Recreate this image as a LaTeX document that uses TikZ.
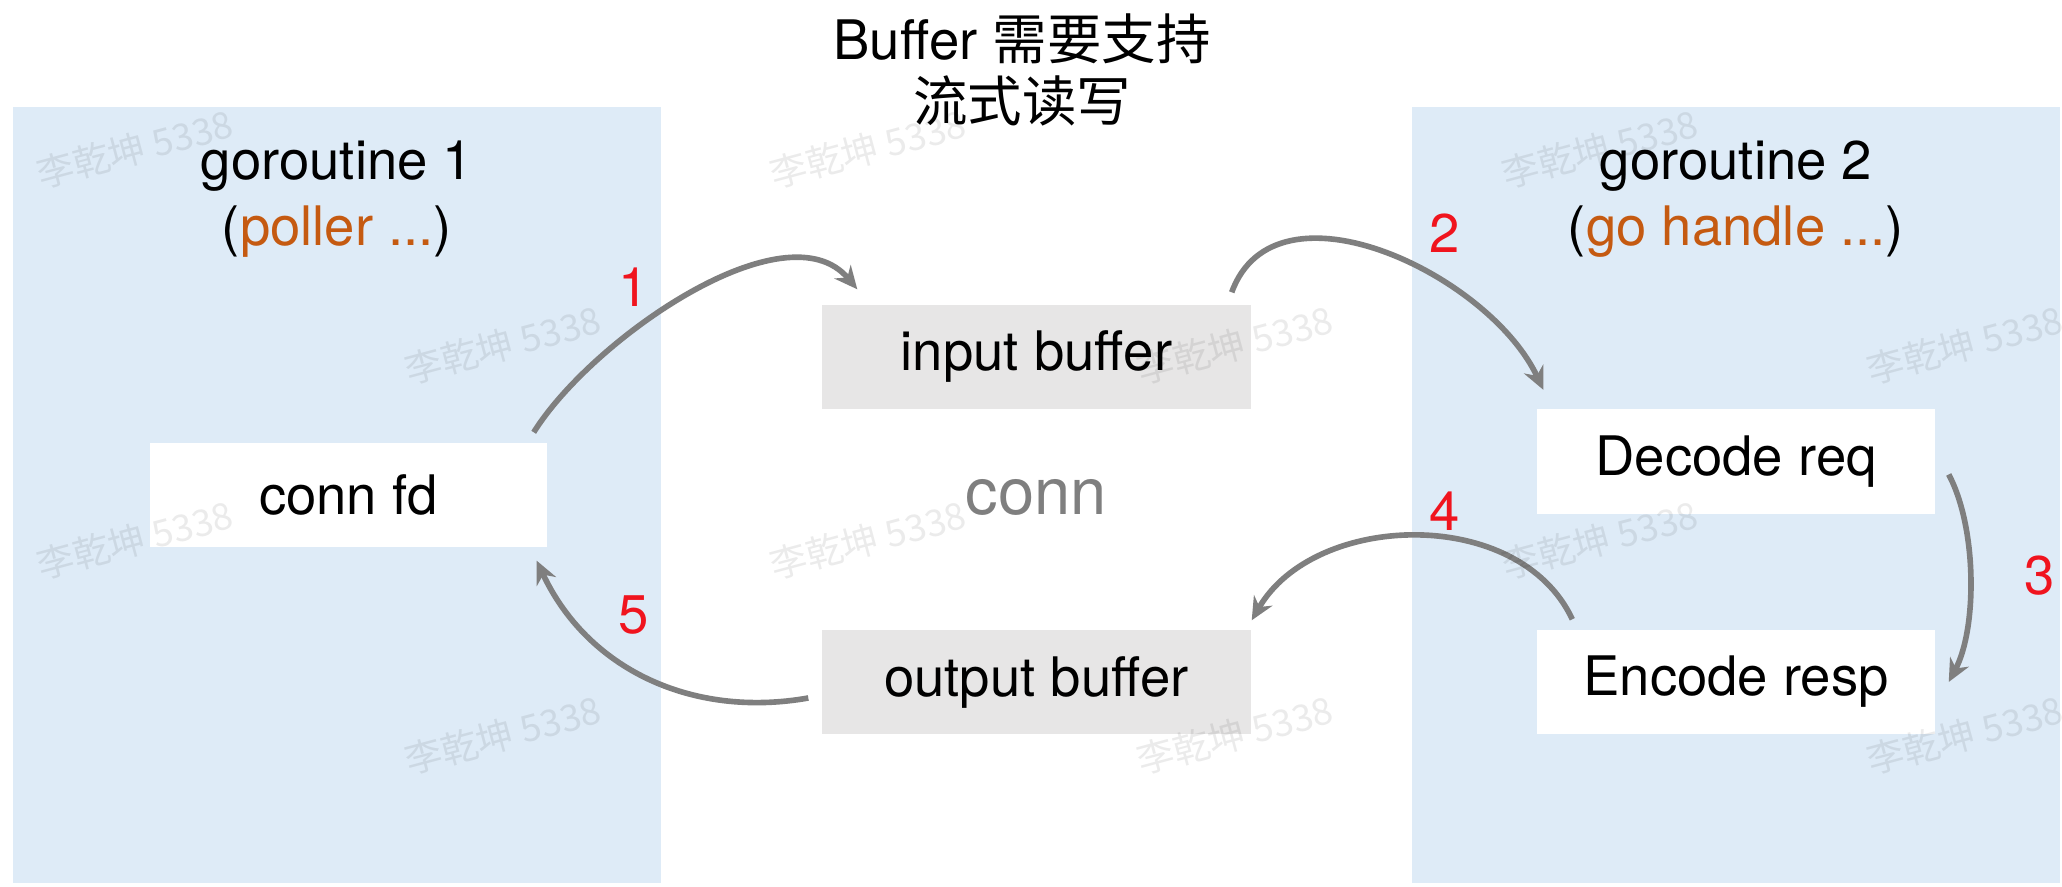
\documentclass[tikz,border=0pt]{standalone}
\usepackage{fontspec}
\setmainfont{TeX Gyre Heros}
\newfontfamily\cjk{Noto Sans CJK SC}
\usepackage{xcolor}
\usepackage{tikz}
\usetikzlibrary{arrows.meta}
\definecolor{panelblue}{HTML}{DEEBF7}
\definecolor{bufgray}{HTML}{E7E6E6}
\definecolor{flowgray}{HTML}{7F7F7F}
\definecolor{orangetext}{HTML}{C55A11}
\definecolor{stepred}{HTML}{F0141E}

\begin{document}
\begin{tikzpicture}[
    font=\fontsize{15.5}{18.8}\selectfont,
    box/.style={inner sep=0pt, minimum height=1.04cm},
    buf/.style={box, fill=bufgray, minimum width=4.29cm},
    stage/.style={box, fill=white, minimum width=3.98cm},
    flow/.style={draw=flowgray, line width=1.6pt, -{Stealth[length=6.5pt,width=6pt]}},
    num/.style={text=stepred},
    wmark/.style={rotate=15, text=black, text opacity=0.08, font=\cjk\fontsize{10.5}{12}\selectfont}
]
    % Draw the frame
    \useasboundingbox (0,0) rectangle (20.62,8.86);
    \fill[white] (0,0) rectangle (20.62,8.86);

    % Draw the two goroutine panels
    \fill[panelblue] (0.13,0.03) rectangle (6.61,7.79);
    \fill[panelblue] (14.12,0.03) rectangle (20.60,7.79);

    % Draw the titles
    \node[align=center, font=\fontsize{15.5}{17.6}\selectfont] (title) at (10.22,8.16) {Buffer {\cjk 需要支持}\\{\cjk 流式读写}};
    \node[align=center] (g1) at (3.37,6.865) {goroutine 1\\(\textcolor{orangetext}{poller ...})};
    \node[align=center] (g2) at (17.36,6.865) {goroutine 2\\(\textcolor{orangetext}{go handle ...})};

    % Draw the boxes
    \node[stage, minimum width=3.97cm] (connfd) at (3.485,3.91) {conn fd};
    \node[buf] (inbuf) at (10.365,5.29) {input buffer};
    \node[buf] (outbuf) at (10.365,2.04) {output buffer};
    \node[stage] (decode) at (17.36,4.245) {Decode req};
    \node[stage] (encode) at (17.36,2.04) {Encode resp};
    \node[text=flowgray, font=\fontsize{18.5}{22}\selectfont] (conn) at (10.36,3.89) {conn};

    % Draw arrows
    \draw[flow] ([xshift=-0.14cm,yshift=0.1cm]connfd.north east) to[out=58,in=130,looseness=0.8] ([xshift=0.36cm,yshift=0.15cm]inbuf.north west);
    \draw[flow] ([xshift=-0.2cm,yshift=0.12cm]inbuf.north east) to[out=70,in=115] ([xshift=0.07cm,yshift=0.19cm]decode.north west);
    \draw[flow] ([xshift=0.13cm,yshift=-0.13cm]decode.east) to[out=-62,in=62,looseness=0.75] ([xshift=0.13cm]encode.east);
    \draw[flow] ([xshift=0.36cm,yshift=0.1cm]encode.north west) to[out=115,in=60] ([yshift=0.09cm]outbuf.north east);
    \draw[flow] ([xshift=-0.13cm,yshift=-0.16cm]outbuf.west) to[out=190,in=-65] ([xshift=-0.11cm,yshift=-0.13cm]connfd.south east);

    % Draw step numbers
    \node[num] (n1) at (6.34,5.99) {1};
    \node[num] (n2) at (14.45,6.53) {2};
    \node[num] (n3) at (20.40,3.10) {3};
    \node[num] (n4) at (14.45,3.75) {4};
    \node[num] (n5) at (6.34,2.71) {5};

    % Draw watermarks
    \foreach \x/\y in {1.35/7.37, 8.68/7.37, 16.00/7.37, 5.03/5.41, 12.35/5.41, 19.65/5.41,
                       1.35/3.46, 8.68/3.46, 16.00/3.46, 5.03/1.51, 12.35/1.51, 19.65/1.51}
        \node[wmark] at (\x,\y) {李乾坤 5338};
\end{tikzpicture}
\end{document}
